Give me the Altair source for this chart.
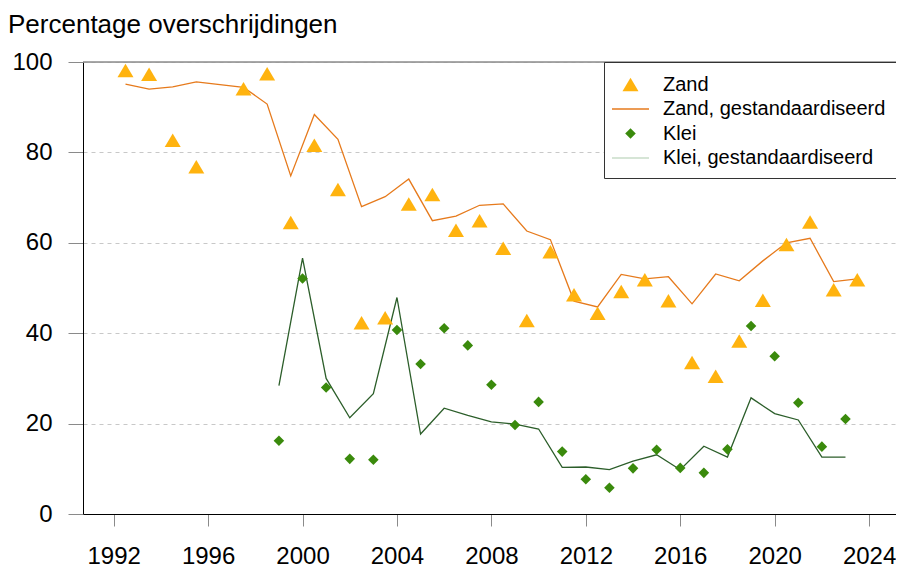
import altair as alt
import pandas as pd

# ---- data ----
zand_years = [1992.5, 1993.5, 1994.5, 1995.5, 1997.5, 1998.5, 1999.5, 2000.5, 2001.5,
              2002.5, 2003.5, 2004.5, 2005.5, 2006.5, 2007.5, 2008.5, 2009.5, 2010.5,
              2011.5, 2012.5, 2013.5, 2014.5, 2015.5, 2016.5, 2017.5, 2018.5, 2019.5,
              2020.5, 2021.5, 2022.5, 2023.5]
zand_pct = [98.1, 97.3, 82.7, 76.8, 94.1, 97.4, 64.5, 81.6, 71.8,
            42.3, 43.4, 68.6, 70.7, 62.8, 64.9, 58.8, 42.8, 58.0,
            48.5, 44.4, 49.2, 51.8, 47.2, 33.5, 30.5, 38.3, 47.3,
            59.6, 64.6, 49.6, 51.8]
zand_std = [95.1, 94.0, 94.5, 95.6, 94.4, 90.7, 74.8, 88.4, 82.9,
            68.0, 70.2, 74.1, 64.9, 65.9, 68.3, 68.6, 62.6, 60.7,
            47.1, 45.8, 53.0, 52.0, 52.5, 46.5, 53.1, 51.6, 56.0,
            60.0, 61.0, 51.4, 52.0]

klei_years = [1999, 2000, 2001, 2002, 2003, 2004, 2005, 2006, 2007, 2008, 2009, 2010,
              2011, 2012, 2013, 2014, 2015, 2016, 2017, 2018, 2019, 2020, 2021, 2022, 2023]
klei_pct = [16.2, 52.1, 28.0, 12.2, 12.0, 40.7, 33.2, 41.1, 37.3, 28.6, 19.7, 24.8,
            13.8, 7.7, 5.8, 10.1, 14.2, 10.2, 9.1, 14.3, 41.6, 34.9, 24.6, 14.9, 21.0]
klei_std = [28.4, 56.6, 30.0, 21.3, 26.6, 47.9, 17.7, 23.4, 21.8, 20.4, 19.9, 18.8,
            10.3, 10.4, 9.8, 11.7, 13.1, 9.8, 15.0, 12.6, 25.7, 22.2, 20.8, 12.6, 12.6]

series_names = ["Zand", "Zand, gestandaardiseerd", "Klei", "Klei, gestandaardiseerd"]
x_ticks = [1992, 1996, 2000, 2004, 2008, 2012, 2016, 2020, 2024]
y_ticks = [0, 20, 40, 60, 80, 100]
title_text = "Percentage overschrijdingen"

# ---- styling ----
FONT = "Liberation Sans"
c_tri = "#FFB30F"
c_zline = "#E67A1C"
c_dia = "#3A8A0C"
c_kline = "#2C5E2A"
c_kleg = "#C8DCC8"

tri_path = "M 0 -0.574 L 0.68 0.574 L -0.68 0.574 Z"
dia_path = "M -0.45 0 L 0 -0.45 L 0.45 0 L 0 0.45 Z"
line_path = "M -1.575 0 L 1.575 0"

rows = []
for x, v in zip(zand_years, zand_pct):
    rows.append({"jaar": x, "pct": v, "serie": "Zand", "soort": "punt"})
for x, v in zip(zand_years, zand_std):
    rows.append({"jaar": x, "pct": v, "serie": "Zand, gestandaardiseerd", "soort": "lijn"})
for x, v in zip(klei_years, klei_pct):
    rows.append({"jaar": x, "pct": v, "serie": "Klei", "soort": "punt"})
for x, v in zip(klei_years, klei_std):
    rows.append({"jaar": x, "pct": v, "serie": "Klei, gestandaardiseerd", "soort": "lijn"})
df = pd.DataFrame(rows)

x_scale = alt.Scale(domain=[1990.70, 2025.14], nice=False, zero=False)
y_scale = alt.Scale(domain=[0, 100], nice=False, zero=True)

x_enc = alt.X("jaar:Q", scale=x_scale,
              axis=alt.Axis(values=x_ticks, format="d", title=None, grid=False,
                            tickSize=12, tickColor="#8a8a8a", labelPadding=18,
                            domainColor="black", labelFontSize=24))
y_enc = alt.Y("pct:Q", scale=y_scale,
              axis=alt.Axis(values=y_ticks, title=None, grid=True, gridDash=[4, 4],
                            gridColor="#c8c8c8", tickSize=15, tickColor="#8a8a8a",
                            labelPadding=16, domainColor="black", labelFontSize=24))

legend = alt.Legend(title=None, orient="none", legendX=521, legendY=0,
                    strokeColor="#333333", fillColor="white", padding=10,
                    rowPadding=1.5, symbolOffset=4, labelOffset=20,
                    labelFontSize=20, labelFont=FONT, labelColor="black",
                    symbolStrokeWidth=1.5, symbolOpacity=1, cornerRadius=0,
                    labelLimit=400)

fill_scale = alt.Scale(domain=series_names, range=[c_tri, c_zline, c_dia, c_kline])
stroke_scale = alt.Scale(domain=series_names, range=["transparent", c_zline, "transparent", c_kleg])
shape_scale = alt.Scale(domain=series_names, range=[tri_path, line_path, dia_path, line_path])
size_scale = alt.Scale(domain=series_names, range=[552, 552, 552, 552])

base = alt.Chart(df)

top_rule = alt.Chart(pd.DataFrame({"pct": [100]})).mark_rule(
    color="#8c8c8c", strokeWidth=1.5).encode(y=alt.Y("pct:Q", scale=y_scale))

lines = base.transform_filter("datum.soort == 'lijn'").mark_line(strokeWidth=1.3).encode(
    x=x_enc, y=y_enc,
    color=alt.Color("serie:N",
                    scale=alt.Scale(domain=["Zand, gestandaardiseerd", "Klei, gestandaardiseerd"],
                                    range=[c_zline, c_kline]),
                    legend=None),
)

points = base.transform_filter("datum.soort == 'punt'").mark_point(
    filled=True, opacity=1, strokeWidth=1.5).encode(
    x=x_enc, y=y_enc,
    fill=alt.Fill("serie:N", scale=fill_scale, legend=legend),
    stroke=alt.Stroke("serie:N", scale=stroke_scale, legend=legend),
    shape=alt.Shape("serie:N", scale=shape_scale, legend=legend),
    size=alt.Size("serie:N", scale=size_scale, legend=legend),
)

chart = alt.layer(top_rule, lines, points).properties(
    width=813, height=452,
    padding={"left": 75, "top": 54, "right": 0, "bottom": 54},
    autosize=alt.AutoSizeParams(type="none"),
    title=alt.TitleParams(title_text, anchor="start", frame="group", offset=13,
                          dx=-75, dy=22, baseline="alphabetic", fontSize=26, font=FONT,
                          fontWeight="normal", color="black"),
).configure_view(stroke=None).configure_axis(
    labelFont=FONT, labelColor="black", domainWidth=1, tickWidth=1,
).configure(background="white")

chart.save("out.html", embed_options={"renderer": "svg", "actions": False})
